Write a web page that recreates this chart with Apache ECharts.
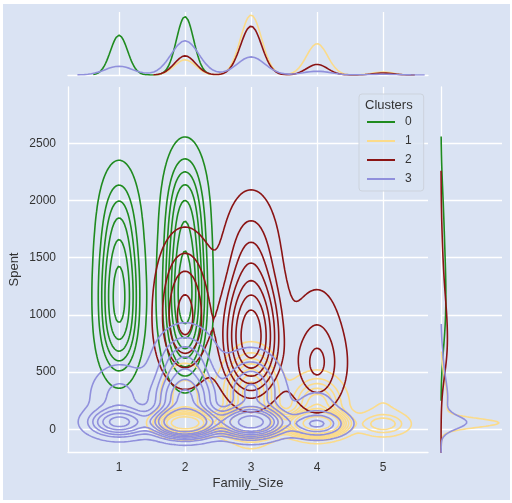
<!DOCTYPE html>
<html>
<head>
<meta charset="utf-8">
<script src="https://cdn.jsdelivr.net/npm/echarts@6/dist/echarts.min.js"></script>
<style>
  html, body { margin: 0; background: #ffffff; }
  #chart { position: absolute; left: 3px; top: 4px; width: 507px; height: 496px; }
</style>
</head>
<body>
<div id="chart"></div>
<script>
const famTicks = [1, 2, 3, 4, 5];
const spentTicks = [0, 500, 1000, 1500, 2000, 2500];
const clusterNames = ['0', '1', '2', '3'];
const clusterColors = ['#1f8b1f', '#fbdb8a', '#8b1414', '#9090dc'];

// estimated mixture per cluster: [Family_Size, weight, mean Spent, spread of Spent]
const cluster0 = [[1, 1.3, 850, 230], [1, 1.7, 1200, 250], [1, 1.2, 1550, 270], [1, 0.7, 1900, 270],
                  [2, 1.6, 850, 240], [2, 2.4, 1200, 260], [2, 1.9, 1600, 280], [2, 1.3, 2000, 280]];
const cluster1 = [[2, 1.6, 55, 35], [2, 0.7, 280, 170], [3, 5.8, 60, 40], [3, 3.3, 300, 190],
                  [4, 3.3, 50, 40], [4, 1.45, 220, 130], [5, 0.33, 45, 40], [5, 0.12, 200, 120]];
const cluster2 = [[2, 1.5, 850, 250], [2, 1.4, 1250, 280],
                  [3, 2.6, 650, 200], [3, 2.6, 950, 220], [3, 1.6, 1300, 300], [3, 0.6, 1700, 280],
                  [4, 1.05, 540, 200], [4, 0.55, 900, 260], [5, 0.3, 500, 500]];
const cluster3 = [[1, 1.0, 60, 55], [1, 0.75, 280, 170],
                  [2, 3.0, 60, 55], [2, 2.0, 250, 130], [2, 1.8, 520, 200],
                  [3, 2.0, 60, 55], [3, 1.6, 330, 190],
                  [4, 0.55, 45, 55], [4, 0.2, 220, 120], [5, 0.15, 100, 200]];
const clusterParts = [cluster0, cluster1, cluster2, cluster3];

// kernel widths (joint plot and marginals)
const famBwJoint = [0.18, 0.22, 0.25, 0.27];
const famBwMarg = [0.13, 0.16, 0.16, 0.21];
const spentBwJoint = [90, 40, 110, 45];
// iso-proportion levels, thresh 0.05, 10 levels
const isoLevels = [0.05, 0.156, 0.261, 0.367, 0.472, 0.578, 0.683, 0.789, 0.894];

const textColor = '#333333';
const fontFamily = 'Liberation Sans, Arial, sans-serif';

function gauss(x, m, s) {
  const z = (x - m) / s;
  return Math.exp(-0.5 * z * z) / (s * 2.5066283);
}

// joint density on a grid
const nx = 241, ny = 301;
const xs = [], ys = [];
for (let i = 0; i < nx; i++) xs.push(-0.6 + i * 0.03);
for (let j = 0; j < ny; j++) ys.push(-1000 + j * 5000 / (ny - 1));

const dens = clusterParts.map((parts, c) => {
  const v = new Float64Array(nx * ny);
  parts.forEach(([fs, w, m, s]) => {
    const sy = Math.sqrt(s * s + spentBwJoint[c] * spentBwJoint[c]);
    const gx = xs.map(x => gauss(x, fs, famBwJoint[c]));
    const gy = ys.map(y => w * gauss(y, m, sy));
    for (let j = 0; j < ny; j++) {
      for (let i = 0; i < nx; i++) v[j * nx + i] += gy[j] * gx[i];
    }
  });
  return v;
});

// common levels over all clusters (like seaborn common_norm)
const all = new Float64Array(nx * ny * dens.length);
dens.forEach((v, c) => all.set(v, c * nx * ny));
all.sort();
let total = 0;
for (let k = 0; k < all.length; k++) total += all[k];
const levels = isoLevels.map(q => {
  const target = (1 - q) * total;
  let acc = 0;
  for (let k = all.length - 1; k >= 0; k--) {
    acc += all[k];
    if (acc >= target) return all[k];
  }
  return all[0];
});

// marching squares, segments chained into polylines
function traceContours(vals, level) {
  const pts = {}, adj = {};
  const V = (i, j) => vals[j * nx + i];
  function ep(key, x0, y0, v0, x1, y1, v1) {
    if (!pts[key]) {
      const t = (level - v0) / (v1 - v0);
      pts[key] = [x0 + t * (x1 - x0), y0 + t * (y1 - y0)];
    }
    return key;
  }
  function link(a, b) {
    (adj[a] = adj[a] || []).push(b);
    (adj[b] = adj[b] || []).push(a);
  }
  for (let j = 0; j < ny - 1; j++) {
    for (let i = 0; i < nx - 1; i++) {
      const va = V(i, j), vb = V(i + 1, j), vc = V(i + 1, j + 1), vd = V(i, j + 1);
      const idx = (va > level ? 1 : 0) | (vb > level ? 2 : 0) | (vc > level ? 4 : 0) | (vd > level ? 8 : 0);
      if (idx === 0 || idx === 15) continue;
      const B = () => ep('h' + i + '_' + j, xs[i], ys[j], va, xs[i + 1], ys[j], vb);
      const R = () => ep('v' + (i + 1) + '_' + j, xs[i + 1], ys[j], vb, xs[i + 1], ys[j + 1], vc);
      const T = () => ep('h' + i + '_' + (j + 1), xs[i], ys[j + 1], vd, xs[i + 1], ys[j + 1], vc);
      const L = () => ep('v' + i + '_' + j, xs[i], ys[j], va, xs[i], ys[j + 1], vd);
      const mid = (va + vb + vc + vd) / 4 > level;
      switch (idx) {
        case 1: case 14: link(B(), L()); break;
        case 2: case 13: link(B(), R()); break;
        case 4: case 11: link(R(), T()); break;
        case 8: case 7: link(T(), L()); break;
        case 3: case 12: link(L(), R()); break;
        case 6: case 9: link(B(), T()); break;
        case 5:
          if (mid) { link(B(), R()); link(T(), L()); } else { link(B(), L()); link(R(), T()); }
          break;
        case 10:
          if (mid) { link(B(), L()); link(R(), T()); } else { link(B(), R()); link(T(), L()); }
          break;
      }
    }
  }
  const seen = new Set();
  const lines = [];
  function walk(start) {
    const line = [pts[start]];
    seen.add(start);
    let cur = start;
    while (true) {
      const nb = adj[cur].filter(k => !seen.has(k));
      if (!nb.length) {
        if (line.length > 2 && adj[cur].includes(start)) line.push(pts[start]);
        break;
      }
      cur = nb[0];
      seen.add(cur);
      line.push(pts[cur]);
    }
    lines.push(line);
  }
  Object.keys(adj).forEach(k => { if (adj[k].length === 1 && !seen.has(k)) walk(k); });
  Object.keys(adj).forEach(k => { if (!seen.has(k)) walk(k); });
  return lines;
}

function contourSeries(c) {
  const lines = [];
  levels.forEach(lv => traceContours(dens[c], lv).forEach(l => lines.push(l)));
  return {
    type: 'custom',
    name: clusterNames[c],
    xAxisIndex: 0,
    yAxisIndex: 0,
    clip: true,
    silent: true,
    itemStyle: { color: clusterColors[c] },
    data: lines.map((l, k) => [l[0][0], l[0][1], k]),
    renderItem: (params, api) => ({
      type: 'polyline',
      shape: { points: lines[api.value(2)].map(p => api.coord(p)) },
      style: { fill: null, stroke: clusterColors[c], lineWidth: 1.6 }
    })
  };
}

// marginal curves
const topCurves = clusterParts.map((parts, c) => {
  const fsVals = parts.map(p => p[0]);
  const lo = Math.min(...fsVals) - 3 * famBwMarg[c], hi = Math.max(...fsVals) + 3 * famBwMarg[c];
  const out = [];
  for (let k = 0; k <= 200; k++) {
    const x = lo + (hi - lo) * k / 200;
    let d = 0;
    parts.forEach(([fs, w]) => { d += w * gauss(x, fs, famBwMarg[c]); });
    out.push([x, d]);
  }
  return out;
});
const rightCurves = clusterParts.map(parts => {
  const lo = Math.min(...parts.map(p => p[2] - 2.5 * p[3]));
  const hi = Math.max(...parts.map(p => p[2] + 2 * p[3]));
  const out = [];
  for (let k = 0; k <= 300; k++) {
    const y = lo + (hi - lo) * k / 300;
    let d = 0;
    parts.forEach(([fs, w, m, s]) => { d += w * gauss(y, m, s); });
    out.push([d, y]);
  }
  return out;
});
const topMax = Math.max(...topCurves.map(cv => Math.max(...cv.map(p => p[1])))) * 1.05;
const rightMax = Math.max(...rightCurves.map(cv => Math.max(...cv.map(p => p[0])))) * 1.05;

const white = { color: '#ffffff', width: 1.3 };
const plain = v => String(v);
const chart = echarts.init(document.getElementById('chart'));

const option = {
  backgroundColor: '#dae3f3',
  animation: false,
  textStyle: { fontFamily: fontFamily },
  grid: [
    { left: 65, top: 83, width: 360, height: 365, outerBoundsMode: 'none' },
    { left: 65, top: 8, width: 360, height: 63, outerBoundsMode: 'none' },
    { left: 438, top: 83, width: 61, height: 365, outerBoundsMode: 'none' }
  ],
  xAxis: [
    {
      gridIndex: 0, type: 'value', min: 0.227, max: 5.68,
      name: 'Family_Size', nameLocation: 'middle', nameGap: 25, nameMoveOverlap: false,
      nameTextStyle: { color: textColor, fontSize: 13 },
      axisLine: { show: true, onZero: false, lineStyle: white },
      axisTick: { show: false, customValues: famTicks },
      axisLabel: { customValues: famTicks, formatter: plain, margin: 10, color: textColor, fontSize: 12 },
      splitLine: { show: true, lineStyle: white }
    },
    {
      gridIndex: 1, type: 'value', min: 0.227, max: 5.68,
      axisLine: { show: true, onZero: false, lineStyle: white },
      axisTick: { show: false, customValues: famTicks },
      axisLabel: { show: false, customValues: famTicks },
      splitLine: { show: true, lineStyle: white }
    },
    {
      gridIndex: 2, type: 'value', min: 0, max: rightMax,
      axisLine: { show: false }, axisTick: { show: false },
      axisLabel: { show: false }, splitLine: { show: false }
    }
  ],
  yAxis: [
    {
      gridIndex: 0, type: 'value', min: -198, max: 2992,
      name: 'Spent', nameLocation: 'middle', nameGap: 47, nameMoveOverlap: false,
      nameTextStyle: { color: textColor, fontSize: 13 },
      axisLine: { show: true, onZero: false, lineStyle: white },
      axisTick: { show: false, customValues: spentTicks },
      axisLabel: { customValues: spentTicks, formatter: plain, margin: 12, color: textColor, fontSize: 12 },
      splitLine: { show: true, lineStyle: white }
    },
    {
      gridIndex: 1, type: 'value', min: 0, max: topMax,
      axisLine: { show: false }, axisTick: { show: false },
      axisLabel: { show: false }, splitLine: { show: false }
    },
    {
      gridIndex: 2, type: 'value', min: -198, max: 2992,
      axisLine: { show: true, onZero: false, lineStyle: white },
      axisTick: { show: false, customValues: spentTicks },
      axisLabel: { show: false, customValues: spentTicks },
      splitLine: { show: true, lineStyle: white }
    }
  ],
  legend: {
    orient: 'vertical',
    left: 356,
    top: 90,
    padding: [21, 12, 5, 8],
    itemGap: 5,
    itemWidth: 28,
    itemHeight: 2,
    icon: 'rect',
    backgroundColor: 'rgba(218,227,243,0.8)',
    borderColor: '#cdd3dd',
    borderWidth: 1,
    borderRadius: 3,
    textStyle: { color: textColor, fontSize: 12, lineHeight: 14, padding: [0, 0, 0, 5] },
    data: clusterNames
  },
  graphic: [
    {
      type: 'text', left: 362, top: 95, z: 100,
      style: { text: 'Clusters', fill: textColor, font: '13px ' + fontFamily }
    }
  ],
  series: [
    ...clusterParts.map((p, c) => contourSeries(c)),
    ...topCurves.map((cv, c) => ({
      type: 'line', name: clusterNames[c], xAxisIndex: 1, yAxisIndex: 1,
      data: cv, showSymbol: false, silent: true,
      lineStyle: { color: clusterColors[c], width: 1.6 },
      itemStyle: { color: clusterColors[c] }
    })),
    ...rightCurves.map((cv, c) => ({
      type: 'line', name: clusterNames[c], xAxisIndex: 2, yAxisIndex: 2,
      data: cv, showSymbol: false, silent: true,
      lineStyle: { color: clusterColors[c], width: 1.6 },
      itemStyle: { color: clusterColors[c] }
    }))
  ]
};

chart.setOption(option);
</script>
</body>
</html>
